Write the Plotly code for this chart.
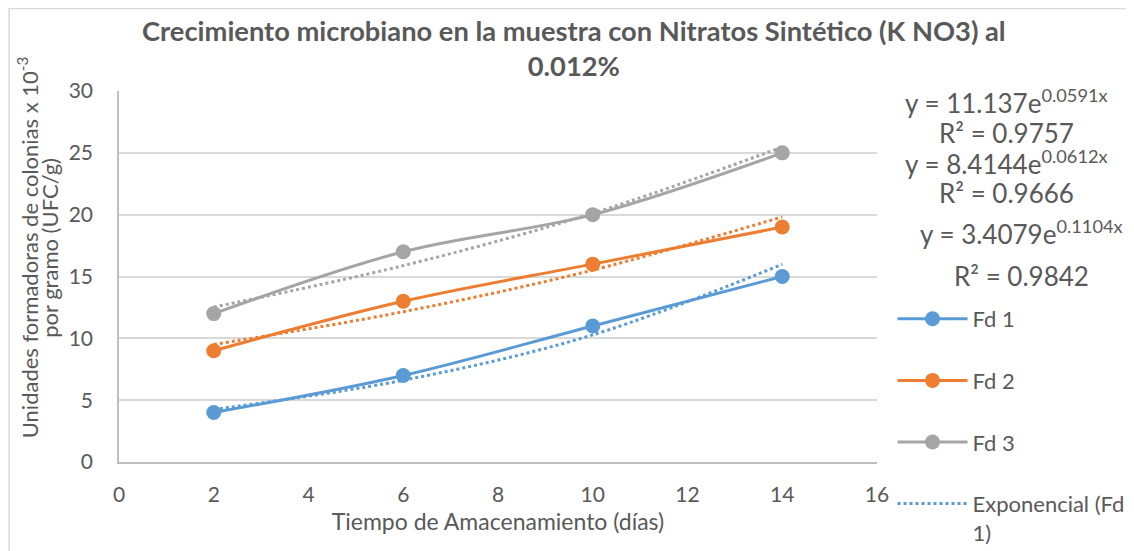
import plotly.graph_objects as go

# días de almacenamiento
dias = [2, 6, 10, 14]

# UFC/g x 10^-3 por dilución
fd1 = [4, 7, 11, 15]
fd2 = [9, 13, 16, 19]
fd3 = [12, 17, 20, 25]

# líneas de tendencia exponencial
tend_fd1 = [4.25, 6.61, 10.28, 15.99]
tend_fd2 = [9.51, 12.15, 15.52, 19.82]
tend_fd3 = [12.53, 15.88, 20.11, 25.47]

ecuaciones = [
    ('y = 11.137e<sup>0.0591x</sup>', 'R² = 0.9757'),
    ('y = 8.4144e<sup>0.0612x</sup>', 'R² = 0.9666'),
    ('y = 3.4079e<sup>0.1104x</sup>', 'R² = 0.9842'),
]

azul = '#5B9BD5'
naranja = '#ED7D31'
gris = '#A5A5A5'
texto = '#595959'
fuente = 'Lato'

fig = go.Figure()

for nombre, y, color in [('Fd 1', fd1, azul), ('Fd 2', fd2, naranja), ('Fd 3', fd3, gris)]:
    fig.add_trace(go.Scatter(
        x=dias, y=y, name=nombre, legendgroup=nombre,
        mode='lines+markers', line=dict(color=color, width=3, shape='spline'),
        marker=dict(color=color, size=15)
    ))

for nombre, y, color, leyenda in [('Exponencial (Fd<br>1)', tend_fd1, azul, True),
                                  ('Exponencial (Fd 2)', tend_fd2, naranja, False),
                                  ('Exponencial (Fd 3)', tend_fd3, gris, False)]:
    fig.add_trace(go.Scatter(
        x=dias, y=y, name=nombre, legendgroup=nombre, showlegend=leyenda,
        mode='lines', line=dict(color=color, width=3, dash='dot', shape='spline')
    ))

# ecuaciones de tendencia (coordenadas de la figura completa)
pos = [(0.8801, 0.8312, 0.7731), (0.8801, 0.7187, 0.6642), (0.8933, 0.5917, 0.5136)]
for (eq, r2), (px, y1, y2) in zip(ecuaciones, pos):
    for txt, yy in [(eq, y1), (r2, y2)]:
        fig.add_annotation(x=px, y=yy, xref='paper', yref='paper', text=txt, showarrow=False,
                           xanchor='center', yanchor='middle',
                           font=dict(size=26, color=texto, family=fuente))

# título del eje Y (dos líneas, como en el original)
for txt, px, yy in [('Unidades formadoras de colonias x 10<sup>-3</sup>', 0.0175, 0.5655),
                    ('por gramo (UFC/g)', 0.0365, 0.5655)]:
    fig.add_annotation(x=px, y=yy, xref='paper', yref='paper', text=txt, showarrow=False,
                       textangle=-90, xanchor='center', yanchor='middle',
                       font=dict(size=22, color=texto, family=fuente))

# borde del gráfico
fig.add_shape(type='rect', xref='paper', yref='paper', x0=0.001, x1=1.05, y0=-0.05, y1=0.999,
              line=dict(color='#D9D9D9', width=1.5), fillcolor='rgba(0,0,0,0)', layer='below')

fig.update_layout(
    title=dict(text='<b>Crecimiento microbiano en la muestra con Nitratos Sintético (K NO3) al<br>0.012%</b>',
               x=0.499, xanchor='center', y=0.941, yanchor='middle', yref='container',
               font=dict(size=27.3, color=texto, family=fuente)),
    width=1134, height=551,
    margin=dict(l=0, r=0, t=0, b=0, autoexpand=False),
    plot_bgcolor='white', paper_bgcolor='white',
    font=dict(family=fuente, color=texto),
    legend=dict(x=0.78, y=0.4737, xanchor='left', yanchor='top', traceorder='grouped', valign='top',
                tracegroupgap=30, itemwidth=70, font=dict(size=22, color=texto, family=fuente)),
    xaxis=dict(domain=[0.09788, 0.76631], range=[0, 16], dtick=2, showgrid=False, showline=True,
               linecolor='#BFBFBF', linewidth=1.5, ticks='', ticklabelstandoff=13, automargin=False,
               tickfont=dict(size=21, color=texto), zeroline=False,
               title=dict(text='Tiempo de Amacenamiento (días)', font=dict(size=23, color=texto), standoff=9)),
    yaxis=dict(domain=[0.17604, 0.84936], range=[0, 30], dtick=5, showgrid=True, gridcolor='#D9D9D9',
               gridwidth=1.5, showline=True, linecolor='#BFBFBF', linewidth=1.5, ticks='',
               ticklabelstandoff=20, tickfont=dict(size=21, color=texto), zeroline=False, automargin=False),
)

fig.write_html('out.html')
